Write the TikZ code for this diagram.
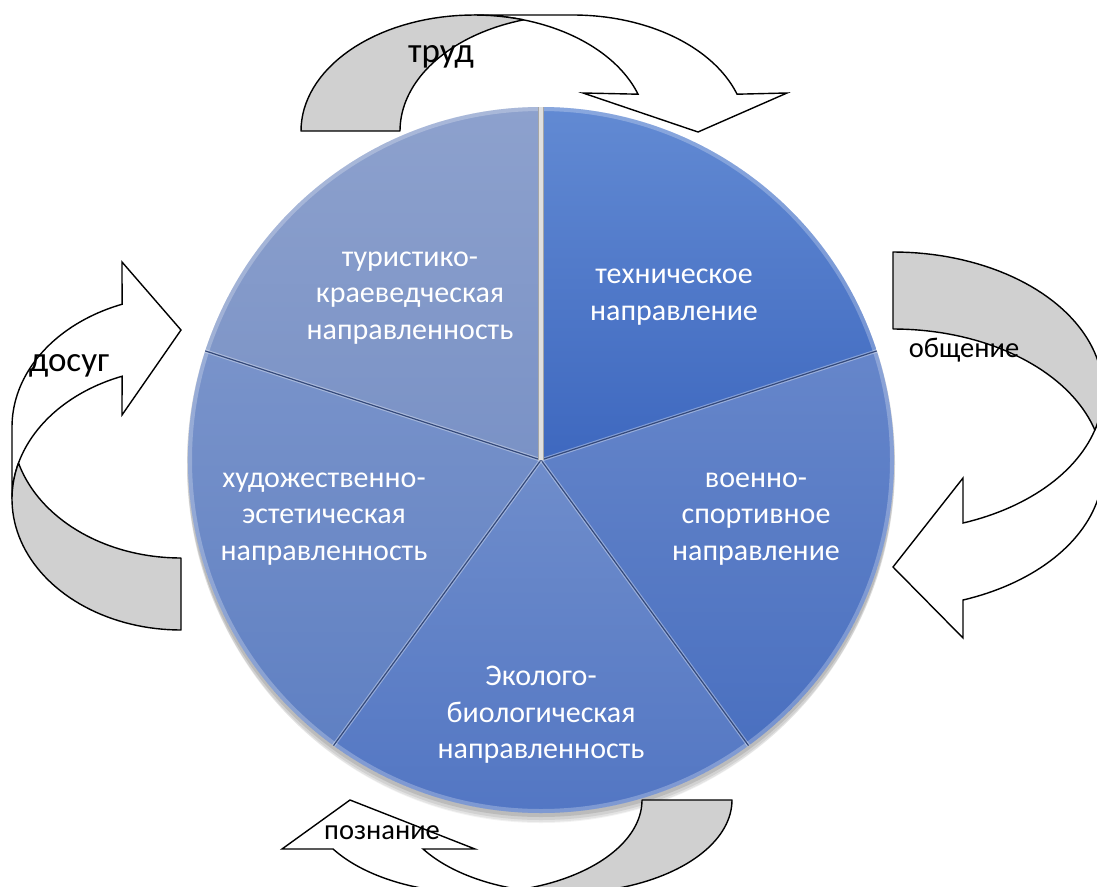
\documentclass[tikz,border=0pt]{standalone}
\usepackage{fontspec}
\setmainfont{Carlito}
\definecolor{bandgray}{HTML}{D0D0D0}
\definecolor{turA}{HTML}{8DA1CD}
\definecolor{turB}{HTML}{7A92C6}
\definecolor{tecA}{HTML}{628AD3}
\definecolor{tecB}{HTML}{3E68BF}
\definecolor{voeA}{HTML}{6686CA}
\definecolor{voeB}{HTML}{4A70C0}
\definecolor{ekoA}{HTML}{6F8DCB}
\definecolor{ekoB}{HTML}{5175C3}
\definecolor{hudA}{HTML}{7993CA}
\definecolor{hudB}{HTML}{5F80C3}
\definecolor{sepdark}{HTML}{34497A}
\begin{document}
\begin{tikzpicture}[x=1pt,y=-1pt,
  grayband/.style={fill=bandgray, draw=black, line width=1.4pt, line join=round},
  whiteband/.style={fill=white, draw=black, line width=1.4pt, line join=miter},
  sepline/.style={draw=sepdark, line width=1.2pt},
  slicetext/.style={text=white, align=center, inner sep=0pt, font=\fontsize{30}{36.6}\selectfont},
  biglabel/.style={text=black, anchor=base, inner sep=0pt, font=\fontsize{35}{42}\selectfont},
  smalllabel/.style={text=black, anchor=base, inner sep=0pt, font=\fontsize{28.5}{34}\selectfont}]
\useasboundingbox (0,0) rectangle (1097,886);
\clip (0,0) rectangle (1097,886);
\fill[white] (0,0) rectangle (1097,886);
\coordinate (C) at (541,460);
% shadow (mostly below)
\foreach \k/\d/\o in {-2/12/0.05, 0/9/0.06, 1/6/0.08, 1/3/0.10} {
  \fill[black, opacity=\o] (541,{460+\d}) circle[radius={(353+\k)*1pt}];
}
% slices
\shade[top color=turA, bottom color=turB] (C) -- ++(90:353pt) arc[start angle=90, end angle=162, radius=353pt] -- cycle;
\shade[top color=tecA, bottom color=tecB] (C) -- ++(18:353pt) arc[start angle=18, end angle=90, radius=353pt] -- cycle;
\shade[top color=voeA, bottom color=voeB] (C) -- ++(-54:353pt) arc[start angle=-54, end angle=18, radius=353pt] -- cycle;
\shade[top color=ekoA, bottom color=ekoB] (C) -- ++(-126:353pt) arc[start angle=-126, end angle=-54, radius=353pt] -- cycle;
\shade[top color=hudA, bottom color=hudB] (C) -- ++(162:353pt) arc[start angle=162, end angle=234, radius=353pt] -- cycle;
% rim
\draw[white, opacity=0.25, line width=4pt] (C) circle[radius=351pt];
% separators
\foreach \a in {18,-54,-126,162} {
  \draw[white, opacity=0.35, line width=3.5pt] (C) -- ++(\a:353pt);
  \draw[sepline] (C) -- ++(\a:353pt);
}
\draw[gray!70, line width=6pt] (C) -- ++(90:353pt);
\draw[gray!25, line width=4pt] (C) -- ++(90:353pt);
% top arrow (trud)
\filldraw[whiteband]
  plot[domain=90:18.5, samples=40, variable=\t] ({573+173*cos(\t)}, {131-116*sin(\t)})
  -- (787,93) -- (698,132) -- (583,93)
  -- plot[domain=18.5:90, samples=40, variable=\t] ({474+173*cos(\t)}, {131-116*sin(\t)})
  -- cycle;
\filldraw[grayband]
  plot[domain=180:73.37, samples=40, variable=\t] ({474+173*cos(\t)}, {131-116*sin(\t)})
  -- plot[domain=106.63:180, samples=40, variable=\t] ({573+173*cos(\t)}, {131-116*sin(\t)})
  -- cycle;
% left arrow (dosug)
\filldraw[whiteband]
  plot[domain=180:110.4, samples=40, variable=\t] ({181+169*cos(\t)}, {427-131*sin(\t)})
  -- (122,262) -- (181,330) -- (122,415)
  -- plot[domain=110.4:180, samples=40, variable=\t] ({181+169*cos(\t)}, {499-131*sin(\t)})
  -- cycle;
\filldraw[grayband]
  plot[domain=270:164.04, samples=50, variable=\t] ({181+169*cos(\t)}, {499-131*sin(\t)})
  -- plot[domain=195.96:270, samples=40, variable=\t] ({181+169*cos(\t)}, {427-131*sin(\t)})
  -- cycle;
% right arrow (obshchenie)
\filldraw[whiteband]
  plot[domain=0:-70.53, samples=40, variable=\t] ({893+210*cos(\t)}, {391.5-139.5*sin(\t)})
  -- (963,478) -- (893,567) -- (963,638)
  -- plot[domain=-70.53:0, samples=40, variable=\t] ({893+210*cos(\t)}, {468.5-139.5*sin(\t)})
  -- cycle;
\filldraw[grayband]
  plot[domain=90:-16.02, samples=50, variable=\t] ({893+210*cos(\t)}, {391.5-139.5*sin(\t)})
  -- plot[domain=16.02:90, samples=40, variable=\t] ({893+210*cos(\t)}, {468.5-139.5*sin(\t)})
  -- cycle;
% bottom arrow (poznanie)
\filldraw[whiteband]
  plot[domain=-90:-148.2, samples=40, variable=\t] ({475+167*cos(\t)}, {800-93*sin(\t)})
  -- (282,849) -- (350,800) -- (475,849)
  -- plot[domain=-148.2:-90, samples=40, variable=\t] ({565+167*cos(\t)}, {800-93*sin(\t)})
  -- cycle;
\filldraw[grayband]
  plot[domain=0:-105.63, samples=50, variable=\t] ({565+167*cos(\t)}, {800-93*sin(\t)})
  -- plot[domain=-74.37:0, samples=40, variable=\t] ({475+167*cos(\t)}, {800-93*sin(\t)})
  -- cycle;
% slice texts
\node[slicetext] (tur) at (410,298) {туристико-\\краеведческая\\направленность};
\node[slicetext] (tech) at (674,297) {техническое\\направление};
\node[slicetext] (voen) at (756,519) {военно-\\спортивное\\направление};
\node[slicetext] (eko) at (541,715) {Эколого-\\биологическая\\направленность};
\node[slicetext] (hud) at (324,519) {художественно-\\эстетическая\\направленность};
% arrow labels
\node[biglabel] (trud) at (441,62) {труд};
\node[biglabel] (dosug) at (69,371) {досуг};
\node[smalllabel] (obsh) at (964,357) {общение};
\node[smalllabel] (pozn) at (382,839) {познание};
\end{tikzpicture}
\end{document}
